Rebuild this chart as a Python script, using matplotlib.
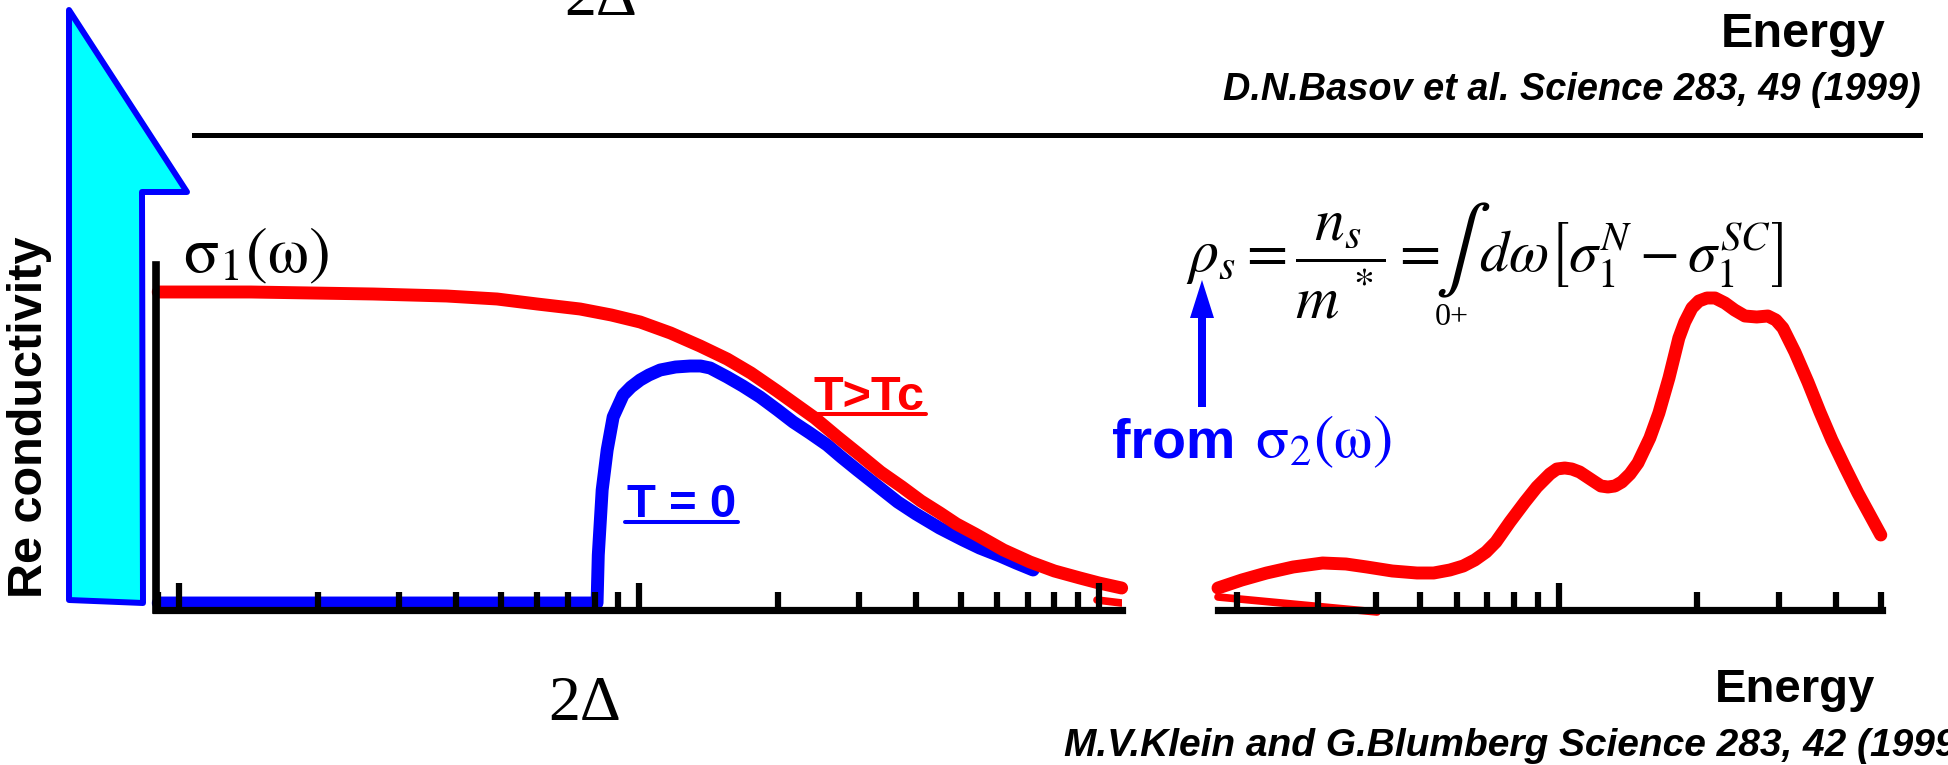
#============================IMPORTS================================
import matplotlib
matplotlib.use("Agg")
import matplotlib.pyplot as plt
from matplotlib.patches import Polygon
from matplotlib.ticker import LogLocator, NullFormatter
import numpy as np

plt.rcParams['font.family'] = ['Liberation Sans', 'DejaVu Sans']
plt.rcParams['mathtext.fontset'] = 'stix'

#============================DATA===================================
# left panel: Re sigma_1(omega), arb. units, energy on a log axis
normal_energy = [0.90, 1.43, 2.64, 3.81, 4.91, 6.0, 7.44, 8.7, 10.05, 11.7, 13.57,
                 15.54, 17.5, 19.95, 22.0, 24.1, 27.0, 30.2, 33.5, 37.3, 41.0, 45.1,
                 49.0, 53.8, 62.0, 70.8, 80.0, 90.9, 100.0, 112.0]
normal_sigma = [3.18, 3.18, 3.16, 3.14, 3.11, 3.06, 3.01, 2.95, 2.88, 2.77, 2.64,
                2.51, 2.37, 2.19, 2.05, 1.92, 1.73, 1.55, 1.38, 1.23, 1.09, 0.97,
                0.86, 0.76, 0.60, 0.48, 0.39, 0.32, 0.27, 0.22]

sc_energy = [0.90, 8.10, 8.15, 8.31, 8.52, 8.78, 9.23, 9.6, 10.05, 10.5, 11.11, 12.0,
             12.91, 13.6, 14.27, 15.54, 16.8, 18.32, 20.0, 21.62, 23.5, 25.63, 27.5,
             29.8, 33.4, 36.5, 40.0, 45.0, 50.6, 55.0, 60.9, 66.0, 71.9]
sc_sigma = [0.07, 0.07, 0.55, 1.20, 1.60, 1.93, 2.15, 2.23, 2.30, 2.35, 2.40, 2.43,
            2.44, 2.44, 2.42, 2.33, 2.24, 2.13, 2.00, 1.88, 1.77, 1.65, 1.53,
            1.40, 1.22, 1.08, 0.96, 0.82, 0.70, 0.62, 0.54, 0.47, 0.40]

tail_energy = [99.0, 112.0]
tail_sigma = [0.10, 0.07]

# right panel: spectrum above the gap
raman_energy = [1.82, 2.05, 2.32, 2.65, 3.07, 3.45, 3.83, 4.35, 4.92, 5.35, 5.80, 6.2,
                6.57, 6.95, 7.30, 7.83, 8.44, 8.96, 9.56, 9.90, 10.3, 10.67, 11.1,
                11.97, 12.34, 12.78, 13.23, 13.70, 14.27, 14.85, 15.76, 16.49, 17.34,
                18.22, 18.77, 19.45, 20.14, 20.96, 21.83, 22.94, 24.07, 25.34, 26.89,
                28.43, 29.59, 30.65, 32.54, 34.73, 36.88, 39.16, 41.79, 44.59, 47.35,
                50.0]
raman = [0.22, 0.30, 0.37, 0.43, 0.47, 0.46, 0.43, 0.39, 0.37, 0.37, 0.40, 0.44,
         0.50, 0.58, 0.68, 0.88, 1.08, 1.23, 1.36, 1.41, 1.42, 1.41, 1.38,
         1.28, 1.24, 1.23, 1.24, 1.28, 1.36, 1.47, 1.72, 1.97, 2.32,
         2.72, 2.88, 3.02, 3.09, 3.12, 3.12, 3.07, 3.00, 2.94, 2.93,
         2.94, 2.90, 2.82, 2.58, 2.28, 1.98, 1.70, 1.43, 1.17, 0.95,
         0.75]

raman_sc_energy = [1.82, 4.03]
raman_sc = [0.13, -0.02]

#============================LAYOUT=================================
W, H = 1948, 765
RED = '#ff0000'
BLUE = '#0000ff'
SERIF = ['Liberation Serif', 'DejaVu Serif']

#============================FUNCTIONS==============================
# axes placed by pixel box (y measured from the top)
def pxAxes(fig, x0, x1, y_top, y_bot):
  return fig.add_axes([x0/W, 1 - y_bot/H, (x1-x0)/W, (y_bot-y_top)/H])

#===================================================================
def styleAxes(ax, xlim):
  ax.set_xscale('log')
  ax.set_xlim(*xlim)
  ax.set_ylim(0, 3.45)
  ax.patch.set_alpha(0)
  ax.set_axisbelow(False)
  for s in ('top', 'right'):
    ax.spines[s].set_visible(False)
  ax.spines['bottom'].set_linewidth(5.2)
  ax.spines['left'].set_linewidth(5.5)
  ax.xaxis.set_major_locator(LogLocator(base=10))
  ax.xaxis.set_minor_locator(LogLocator(base=10, subs=np.arange(2, 10)))
  ax.xaxis.set_major_formatter(NullFormatter())
  ax.xaxis.set_minor_formatter(NullFormatter())
  ax.tick_params(axis='x', which='major', direction='in', length=19.5, width=4.5)
  ax.tick_params(axis='x', which='minor', direction='in', length=13, width=4.5)
  ax.set_yticks([])

#===================================================================
def underline(fig, ov, t, y, color):
  bb = t.get_window_extent(fig.canvas.get_renderer())
  ov.plot([bb.x0 - 2, bb.x1 + 2], [y, y], color=color, lw=2.9, solid_capstyle='round')

#==============================MAIN=================================
def main():
  fig = plt.figure(figsize=(W/100, H/100), dpi=100)

  ax1 = pxAxes(fig, 156, 1122, 265, 610)
  ax2 = pxAxes(fig, 1218, 1882, 265, 610)
  styleAxes(ax1, (0.89, 112.2))
  styleAxes(ax2, (1.82, 50.3))
  ax2.spines['left'].set_visible(False)

  kw = dict(lw=9.3, solid_capstyle='round', solid_joinstyle='round', clip_on=False)
  ax1.plot(sc_energy, sc_sigma, color=BLUE, **kw)
  ax1.plot(normal_energy, normal_sigma, color=RED, **kw)
  ax1.plot(tail_energy, tail_sigma, color=RED, lw=5.5, solid_capstyle='round')
  ax2.plot(raman_energy, raman, color=RED, **kw)
  ax2.plot(raman_sc_energy, raman_sc, color=RED, lw=5.5, solid_capstyle='round', clip_on=False)

  # overlay in pixel units for the slide decorations
  ov = fig.add_axes([0, 0, 1, 1])
  ov.set_xlim(0, W); ov.set_ylim(H, 0)
  ov.axis('off')
  ov.set_zorder(5)

  ov.add_patch(Polygon([(69, 10), (187, 192), (142, 192), (143, 603), (69, 600)],
                       closed=True, facecolor='#00ffff', edgecolor=BLUE, lw=4.3,
                       joinstyle='round'))
  ov.plot([194, 1920], [135, 135], color='black', lw=3.6)
  ov.arrow(1202, 407, 0, -127, width=8, head_width=24, head_length=38,
           length_includes_head=True, color=BLUE, lw=0)

  ov.text(601, 15, '2Δ', family=SERIF, fontsize=46, ha='center', va='baseline')
  ov.text(585, 720, '2Δ', family=SERIF, fontsize=46, ha='center', va='baseline')
  ov.text(1885, 47, 'Energy', fontsize=35, weight='bold', ha='right', va='baseline')
  ov.text(1875, 702, 'Energy', fontsize=34, weight='bold', ha='right', va='baseline')
  ov.text(1921, 100, 'D.N.Basov et al. Science 283, 49 (1999)', fontsize=27.3,
          weight='bold', style='italic', ha='right', va='baseline')
  ov.text(1064, 756, 'M.V.Klein and G.Blumberg Science 283, 42 (1999)', fontsize=28,
          weight='bold', style='italic', ha='left', va='baseline')
  ov.text(30, 417, 'Re conductivity', rotation=90, fontsize=35, weight='bold',
          ha='center', va='center')
  ov.text(183, 272, r'$\mathrm{\sigma_1(\omega)}$', fontsize=47, va='baseline')

  t1 = ov.text(813, 410, 'T>Tc', color=RED, fontsize=35, weight='bold', va='baseline')
  t2 = ov.text(627, 517, 'T = 0', color=BLUE, fontsize=34, weight='bold', va='baseline')

  ov.text(1112, 457, 'from', color=BLUE, fontsize=40, weight='bold', va='baseline')
  ov.text(1255, 457, r'$\mathrm{\sigma_2(\omega)}$', color=BLUE, fontsize=44, va='baseline')

  # superfluid density sum rule, in three pieces so the integral sign is display size
  ov.text(1186, 271, r'$\rho_s = \dfrac{n_s}{m^{\,*}} =$', fontsize=43, va='baseline')
  ov.text(1435, 271, r'$\int$', fontsize=60, va='baseline')
  ov.text(1479, 271, r'$d\omega\left[\sigma_1^N - \sigma_1^{SC}\right]$', fontsize=42,
          va='baseline')
  ov.text(1435, 325, '0+', family=SERIF, fontsize=23, va='baseline')

  fig.canvas.draw()
  underline(fig, ov, t1, 414, RED)
  underline(fig, ov, t2, 522, BLUE)

  fig.savefig('out.png', dpi=100)

#===================================================================
if __name__ == "__main__":
  main()
